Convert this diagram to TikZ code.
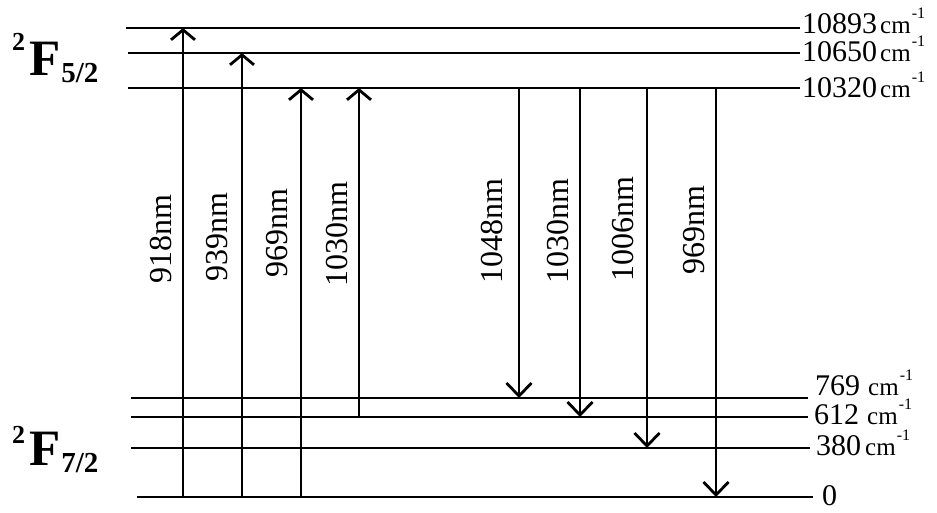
\documentclass[tikz,border=0pt]{standalone}
\usepackage{fontspec}
\setmainfont{Liberation Serif}
\usetikzlibrary{arrows.meta}
\newcommand{\wn}[2][2pt]{#2\kern#1{\fontsize{25}{25}\selectfont cm\kern1pt\raisebox{15pt}{\fontsize{16}{16}\selectfont -1}}}
\begin{document}
\begin{tikzpicture}[x=1pt,y=-1pt,
 level/.style={line width=2.8pt},
 upt/.style={line width=2.8pt, -{Straight Barb[length=10pt,width=24pt]}},
 dnt/.style={line width=2.8pt, -{Straight Barb[length=13pt,width=25pt]}},
 nm/.style={rotate=90, inner sep=0pt, font=\fontsize{32}{32}\selectfont},
 val/.style={anchor=base west, inner sep=0pt, font=\fontsize{30}{30}\selectfont},
 term/.style={anchor=base west, inner sep=0pt, font=\bfseries\fontsize{51}{51}\selectfont}]
\useasboundingbox (0,0) rectangle (937,512);
% level coordinates
\coordinate (A1) at (126,28);  \coordinate (A2) at (800,28);
\coordinate (B1) at (128,53);  \coordinate (B2) at (800,53);
\coordinate (C1) at (128,88);  \coordinate (C2) at (800,88);
\coordinate (D1) at (131,398); \coordinate (D2) at (808,398);
\coordinate (E1) at (131,417); \coordinate (E2) at (808,417);
\coordinate (G1) at (131,448); \coordinate (G2) at (810,448);
\coordinate (H1) at (137,497); \coordinate (H2) at (813,497);
\foreach \p in {A,B,C,D,E,G,H} \draw[level] (\p1) -- (\p2);
% level labels
\node[val] (tA) at (802,33) {\wn[3pt]{10893}};
\node[val] (tB) at (802,61) {\wn[3pt]{10650}};
\node[val] (tC) at (802,97) {\wn[3pt]{10320}};
\node[val] (tD) at (815,395) {\wn[8pt]{769}};
\node[val] (tE) at (814,424) {\wn[8pt]{612}};
\node[val] (tG) at (816,455) {\wn[4pt]{380}};
\node[val] (tH) at (822,505) {0};
% term labels
\node[term] (F52) at (12,75) {\raisebox{25pt}{\fontsize{26}{26}\selectfont 2}\kern4pt F\kern1pt\raisebox{-7pt}{\fontsize{29}{29}\selectfont 5/2}};
\node[term] (F72) at (12,465) {\raisebox{22pt}{\fontsize{26}{26}\selectfont 2}\kern4pt F\kern1pt\raisebox{-7pt}{\fontsize{29}{29}\selectfont 7/2}};
% transition coordinates
\coordinate (u1a) at (183,497); \coordinate (u1b) at (183,28);
\coordinate (u2a) at (242,497); \coordinate (u2b) at (242,53);
\coordinate (u3a) at (301,497); \coordinate (u3b) at (301,88);
\coordinate (u4a) at (359,417); \coordinate (u4b) at (359,88);
\coordinate (d1a) at (519,88);  \coordinate (d1b) at (519,398);
\coordinate (d2a) at (580,88);  \coordinate (d2b) at (580,417);
\coordinate (d3a) at (647,88);  \coordinate (d3b) at (647,448);
\coordinate (d4a) at (716,88);  \coordinate (d4b) at (716,497);
\foreach \t in {u1,u2,u3,u4} \draw[upt] (\t a) -- (\t b);
\foreach \t in {d1,d2,d3,d4} \draw[dnt] (\t a) -- (\t b);
% wavelength labels
\node[nm] (l1) at (161,239) {918nm};
\node[nm] (l2) at (217,237) {939nm};
\node[nm] (l3) at (277,233) {969nm};
\node[nm] (l4) at (337,234) {1030nm};
\node[nm] (l5) at (492,231) {1048nm};
\node[nm] (l6) at (558,231) {1030nm};
\node[nm] (l7) at (623,229) {1006nm};
\node[nm] (l8) at (694,230) {969nm};
\end{tikzpicture}
\end{document}
